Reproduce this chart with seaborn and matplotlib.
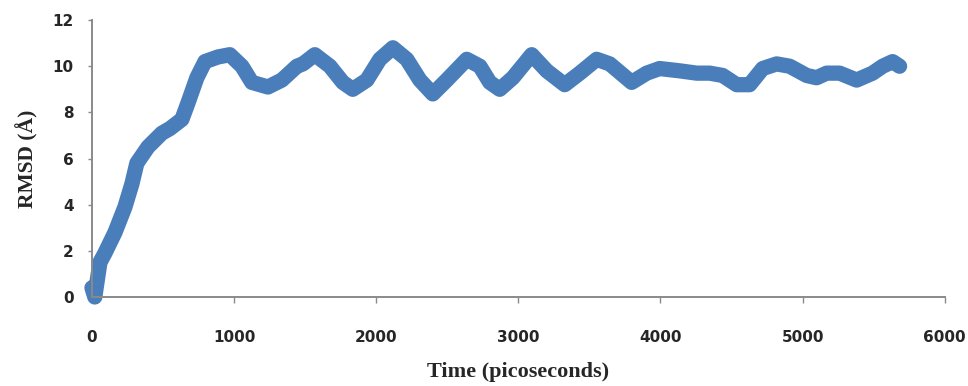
import pandas as pd
import matplotlib.pyplot as plt
import seaborn as sns

# RMSD trace
time_ps = [0, 20, 56, 91, 162, 232, 281, 316, 394, 492,
           549, 633, 675, 738, 795, 886, 970, 1055, 1125, 1238,
           1336, 1442, 1484, 1568, 1674, 1765, 1835, 1934, 2025, 2117,
           2215, 2307, 2398, 2496, 2637, 2729, 2799, 2869, 2961, 3094,
           3200, 3326, 3432, 3551, 3643, 3797, 3903, 3994, 4135, 4255,
           4346, 4437, 4536, 4627, 4719, 4817, 4909, 5028, 5098, 5169,
           5260, 5380, 5492, 5563, 5633, 5682]
rmsd = [0.4, 0.0, 1.5, 1.9, 2.8, 3.9, 4.9, 5.8, 6.5, 7.1,
        7.3, 7.7, 8.4, 9.5, 10.2, 10.4, 10.5, 10.0, 9.3, 9.1,
        9.4, 10.0, 10.1, 10.5, 10.0, 9.3, 9.0, 9.4, 10.3, 10.8,
        10.3, 9.4, 8.8, 9.4, 10.3, 10.0, 9.3, 9.0, 9.5, 10.5,
        9.8, 9.2, 9.7, 10.3, 10.1, 9.3, 9.7, 9.9, 9.8, 9.7,
        9.7, 9.6, 9.2, 9.2, 9.9, 10.1, 10.0, 9.6, 9.5, 9.7,
        9.7, 9.4, 9.7, 10.0, 10.2, 10.0]

x_ticks = [0, 1000, 2000, 3000, 4000, 5000, 6000]
y_ticks = [0, 2, 4, 6, 8, 10, 12]

df = pd.DataFrame({"time": time_ps, "rmsd": rmsd})

sns.set_theme(style="white")
plt.rcParams['font.family'] = ['DejaVu Sans']

fig = plt.figure(figsize=(9.68, 3.86), dpi=100)
ax = fig.add_axes([0.095, 0.2306, 0.881, 0.7174])

sns.lineplot(data=df, x="time", y="rmsd", ax=ax, color="#4a7ebb", linewidth=11,
             solid_capstyle="round", solid_joinstyle="round", clip_on=False)

ax.set_xlim(0, 6000)
ax.set_ylim(0, 12)
ax.set_xticks(x_ticks)
ax.set_yticks(y_ticks)
ax.set_xticklabels([str(t) for t in x_ticks], fontsize=11, fontweight="bold")
ax.set_yticklabels([str(t) for t in y_ticks], fontsize=11, fontweight="bold")

for side in ["top", "right"]:
    ax.spines[side].set_visible(False)
for side in ["left", "bottom"]:
    ax.spines[side].set_color("#8a8a8a")
    ax.spines[side].set_linewidth(1.4)

ax.tick_params(axis="x", direction="out", length=4, width=1, color="#8a8a8a", pad=20, bottom=True)
ax.tick_params(axis="y", direction="out", length=3, width=1, color="#8a8a8a", pad=10, left=True)

ax.set_xlabel("Time (picoseconds)", fontsize=16, fontweight="bold",
              family="Liberation Serif", labelpad=12)
ax.set_ylabel("RMSD (Å)", fontsize=15.5, fontweight="bold",
              family="Liberation Serif", labelpad=10)

fig.savefig("out.png", dpi=100)
